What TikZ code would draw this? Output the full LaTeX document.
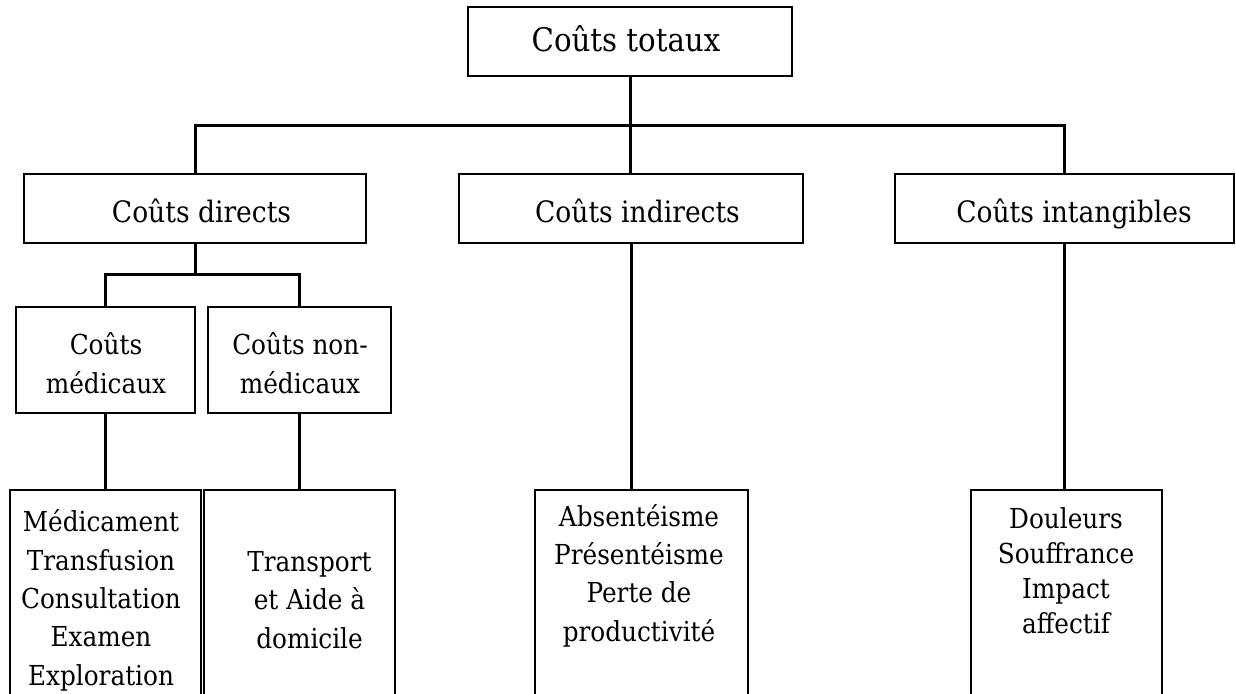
\documentclass[tikz,border=0pt]{standalone}
\usepackage{fontspec}
\setmainfont{DejaVu Serif Condensed}
\begin{document}
\begin{tikzpicture}[x=1pt,y=-1pt,
  box/.style={draw=black,line width=2pt,inner sep=0pt,fill=none},
  conn/.style={draw=black,line width=3pt},
  ttop/.style={anchor=base,inner sep=0pt,font=\fontsize{32.5}{40}\selectfont},
  tmid/.style={anchor=base,inner sep=0pt,font=\fontsize{29.5}{38}\selectfont},
  tsmall/.style={anchor=base,inner sep=0pt,align=center,font=\fontsize{27.5}{39}\selectfont},
  tlow/.style={anchor=base,inner sep=0pt,align=center,font=\fontsize{27.5}{38.3}\selectfont},
  tright/.style={anchor=base,inner sep=0pt,align=center,font=\fontsize{27.5}{34.7}\selectfont}]
\clip (0,0) rectangle (1236,693);
\fill[white] (0,0) rectangle (1236,693);
% boxes
\node[box,minimum width=324pt,minimum height=69pt] (tot) at (630,41.5) {};
\node[box,minimum width=342pt,minimum height=69pt] (dir) at (195,208.5) {};
\node[box,minimum width=344pt,minimum height=69pt] (ind) at (631,208.5) {};
\node[box,minimum width=339pt,minimum height=69pt] (inta) at (1064.5,208.5) {};
\node[box,minimum width=179pt,minimum height=106pt] (med) at (105.5,360) {};
\node[box,minimum width=183pt,minimum height=106pt] (nmed) at (299.5,360) {};
\node[box,minimum width=191pt,minimum height=240pt] (b1) at (105.5,610) {};
\node[box,minimum width=191pt,minimum height=240pt] (b2) at (299.5,610) {};
\node[box,minimum width=213pt,minimum height=240pt] (b3) at (641.5,610) {};
\node[box,minimum width=191pt,minimum height=240pt] (b4) at (1066.5,610) {};
% junction coordinates
\coordinate (bar) at (0,125);
\coordinate (bar2) at (0,274);
% connectors
\draw[conn] (tot.south) -- (tot.south |- ind.north);
\draw[conn] (dir.north) |- (inta.north |- bar) -- (inta.north);
\draw[conn] (dir.south) -- (dir.south |- bar2);
\draw[conn] (med.north) |- (nmed.north |- bar2) -- (nmed.north);
\draw[conn] (med.south) -- (med.south |- b1.north);
\draw[conn] (nmed.south) -- (nmed.south |- b2.north);
\draw[conn] (ind.south) -- (ind.south |- b3.north);
\draw[conn] (inta.south) -- (inta.south |- b4.north);
% texts (multi-line nodes: base = last line)
\node[ttop] (ttot) at (626,52) {Coûts totaux};
\node[tmid] (tdir) at (201.5,222) {Coûts directs};
\node[tmid] (tind) at (637.5,222) {Coûts indirects};
\node[tmid] (tinta) at (1074,222) {Coûts intangibles};
\node[tsmall] (tmed) at (106,393) {Coûts\\médicaux};
\node[tsmall] (tnmed) at (300,393) {Coûts non-\\médicaux};
\node[tlow] (tb1) at (101,685) {Médicament\\Transfusion\\Consultation\\Examen\\Exploration};
\node[tlow] (tb2) at (309.5,648) {Transport\\et Aide à\\domicile};
\node[tlow] (tb3) at (639,641) {Absentéisme\\Présentéisme\\Perte de\\productivité};
\node[tright] (tb4) at (1066,633) {Douleurs\\Souffrance\\Impact\\affectif};
\end{tikzpicture}
\end{document}
